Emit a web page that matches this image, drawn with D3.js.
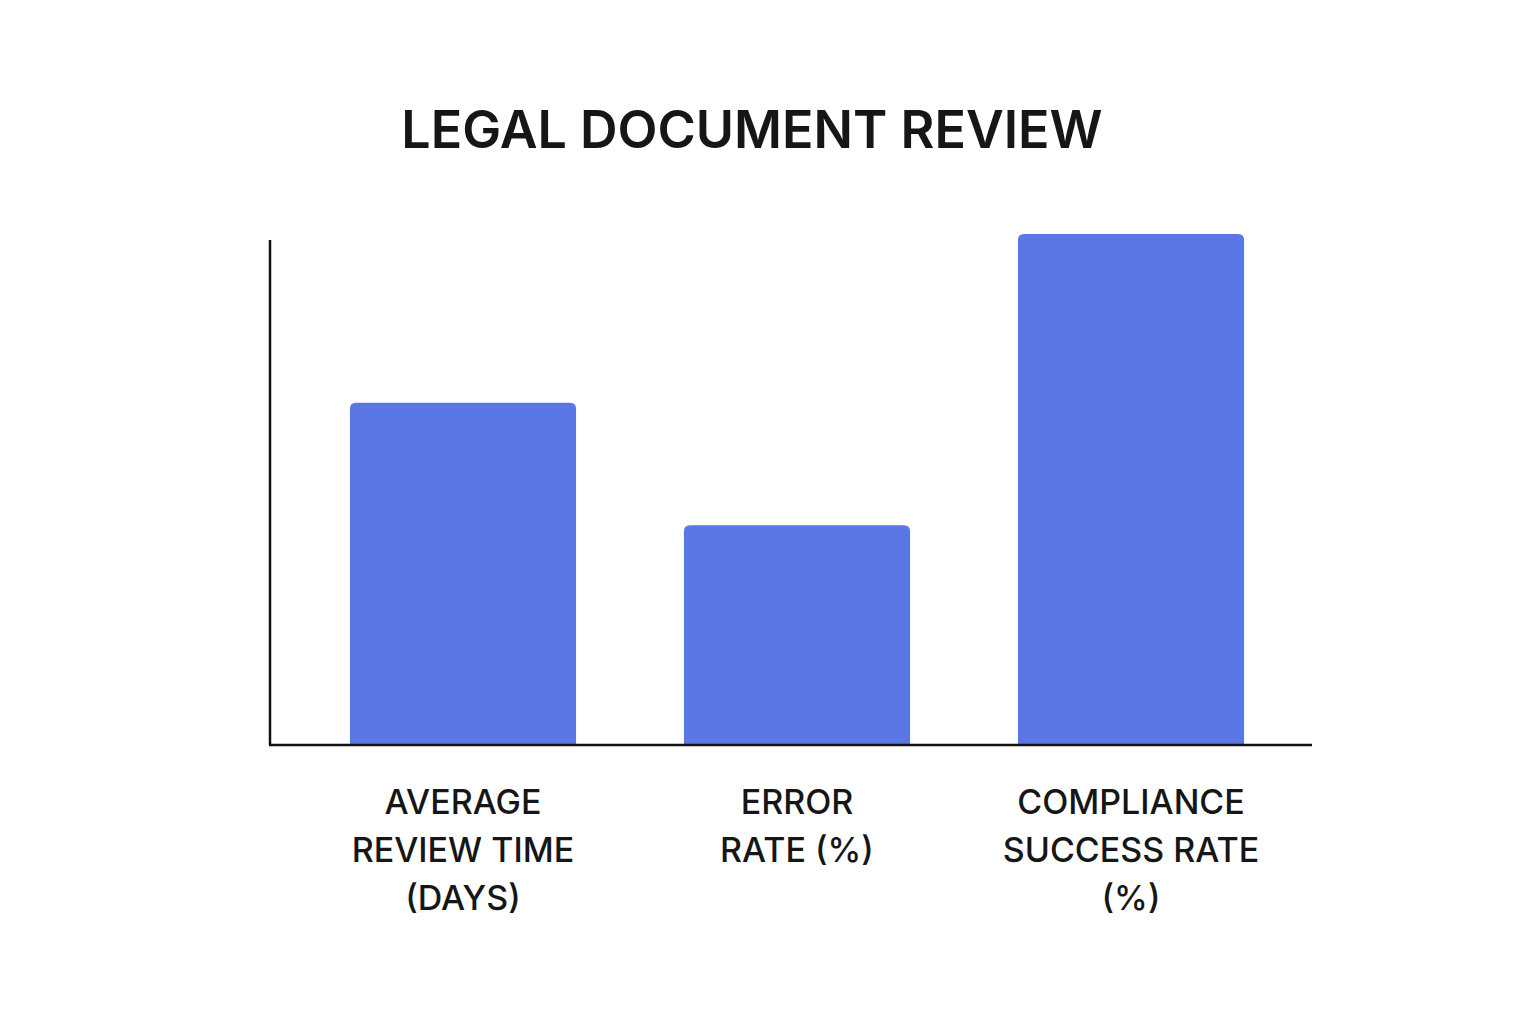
<!DOCTYPE html>
<html><head><meta charset="utf-8">
<script src="https://cdn.jsdelivr.net/npm/d3@7"></script>
<style>body{margin:0;background:#fff}</style></head>
<body><svg id="c" width="1536" height="1024"></svg>
<script>
const categories = ["Average Review Time (Days)", "Error Rate (%)", "Compliance Success Rate (%)"];
const labelLines = [["AVERAGE","REVIEW TIME","(DAYS)"],["ERROR","RATE (%)"],["COMPLIANCE","SUCCESS RATE","(%)"]];
const values = [67, 43, 100];

const svg = d3.select("#c");
const x = d3.scaleBand().domain(categories).range([296, 1298]).paddingInner(0.323).paddingOuter(0.1615);
const y = d3.scaleLinear().domain([0, 100]).range([745, 234]);

svg.append("text").attr("x", 752).attr("y", 148).attr("text-anchor","middle")
  .style("font-family","Inter, sans-serif").style("font-weight",600).style("font-size","52px")
  .attr("fill","#161616").text("LEGAL DOCUMENT REVIEW");

const r = 6;
svg.selectAll("path.bar").data(values).join("path").attr("class","bar")
  .attr("fill","#5b77e6")
  .attr("d",(d,i)=>{
    const x0 = x(categories[i]), w = x.bandwidth(), y0 = y(d), yb = y(0);
    return `M${x0},${yb}V${y0+r}Q${x0},${y0} ${x0+r},${y0}H${x0+w-r}Q${x0+w},${y0} ${x0+w},${y0+r}V${yb}Z`;
  });

svg.append("line").attr("x1",270).attr("x2",270).attr("y1",240).attr("y2",745).attr("stroke","#111").attr("stroke-width",2.5);
svg.append("line").attr("x1",269).attr("x2",1312).attr("y1",745).attr("y2",745).attr("stroke","#111").attr("stroke-width",2.5);

categories.forEach((c,i)=>{
  const cx = x(c) + x.bandwidth()/2;
  const t = svg.append("text").attr("text-anchor","middle")
    .style("font-family","Inter, sans-serif").style("font-weight",500).style("font-size","34px").attr("fill","#161616");
  labelLines[i].forEach((l,j)=>t.append("tspan").attr("x",cx).attr("y",814+j*48).text(l));
});
</script></body></html>
